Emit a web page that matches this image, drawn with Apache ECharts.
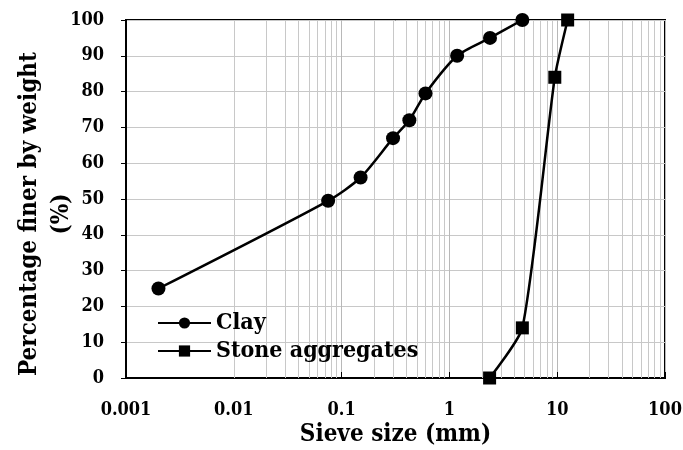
<!DOCTYPE html>
<html><head><meta charset="utf-8">
<script src="https://cdn.jsdelivr.net/npm/echarts@6/dist/echarts.min.js"></script>
<style>html,body{margin:0;padding:0;background:#fff}#c{width:683px;height:450px}</style>
</head><body><div id="c"></div>
<script>
const clayX = [0.002, 0.075, 0.15, 0.30, 0.425, 0.60, 1.18, 2.38, 4.75];
const clayY = [25, 49.5, 56, 67, 72, 79.5, 90, 95, 100];
const stoneX = [2.36, 4.75, 9.5, 12.5];
const stoneY = [0, 14, 84, 100];
const xTickLabels = ['0.001', '0.01', '0.1', '1', '10', '100'];
const minorVals = [];
[0.001, 0.01, 0.1, 1, 10].forEach(d => { for (let k = 2; k <= 9; k++) minorVals.push(+(d * k).toPrecision(3)); });

const FONT = '"DejaVu Serif Condensed", "DejaVu Serif", serif';
const chart = echarts.init(document.getElementById('c'));
chart.setOption({
  animation: false,
  textStyle: { fontFamily: FONT },
  grid: { left: 126, right: 18, top: 20, bottom: 72, outerBoundsMode: 'none', containLabel: false,
    show: true, borderColor: '#000', borderWidth: 2, backgroundColor: 'transparent' },
  legend: {
    left: 157, top: 311, orient: 'vertical', padding: 0, itemWidth: 53, itemHeight: 14, itemGap: 4,
    textStyle: { fontFamily: FONT, fontWeight: 'bold', fontSize: 23, color: '#000', lineHeight: 24 },
    data: [{ name: 'Clay' }, { name: 'Stone aggregates' }]
  },
  xAxis: {
    type: 'log', logBase: 10, min: 0.001, max: 100,
    name: 'Sieve size (mm)', nameLocation: 'middle', nameGap: 45, nameMoveOverlap: false,
    nameTextStyle: { fontFamily: FONT, fontWeight: 'bold', fontSize: 24, color: '#000' },
    axisLine: { lineStyle: { color: '#000', width: 2 } },
    axisTick: { inside: true, length: 6, lineStyle: { color: '#000', width: 1 } },
    axisLabel: { fontFamily: FONT, fontWeight: 'bold', fontSize: 18, color: '#000', margin: 23,
      formatter: (v, i) => xTickLabels[i] },
    splitLine: { show: true, lineStyle: { color: '#b8b8b8', width: 1 } }
  },
  yAxis: {
    type: 'value', min: 0, max: 100, interval: 10,
    name: 'Percentage finer by weight\n(%)', nameLocation: 'middle', nameGap: 48, nameMoveOverlap: false,
    nameTextStyle: { fontFamily: FONT, fontWeight: 'bold', fontSize: 24, color: '#000', lineHeight: 32,
      padding: [0, 30, 0, 0] },
    axisLine: { show: true, lineStyle: { color: '#000', width: 2 } },
    axisTick: { show: true, inside: false, length: 5, lineStyle: { color: '#000', width: 1 } },
    axisLabel: { fontFamily: FONT, fontWeight: 'bold', fontSize: 18, color: '#000', margin: 22 },
    splitLine: { show: true, lineStyle: { color: '#c8c8c8', width: 1 } }
  },
  series: [
    {
      name: 'Clay', type: 'line', smooth: 0.25,
      data: clayX.map((x, i) => [x, clayY[i]]),
      symbol: 'circle', symbolSize: 14,
      lineStyle: { color: '#000', width: 2.5 }, itemStyle: { color: '#000' },
      z: 5,
      markLine: {
        silent: true, symbol: 'none', label: { show: false },
        lineStyle: { color: '#c8c8c8', width: 1, type: 'solid' },
        data: minorVals.map(v => ({ xAxis: v })), z: 1
      }
    },
    {
      name: 'Stone aggregates', type: 'line', smooth: 0.2,
      data: stoneX.map((x, i) => [x, stoneY[i]]),
      symbol: 'rect', symbolSize: 13,
      lineStyle: { color: '#000', width: 2.5 }, itemStyle: { color: '#000' },
      z: 5
    }
  ]
});
</script></body></html>
